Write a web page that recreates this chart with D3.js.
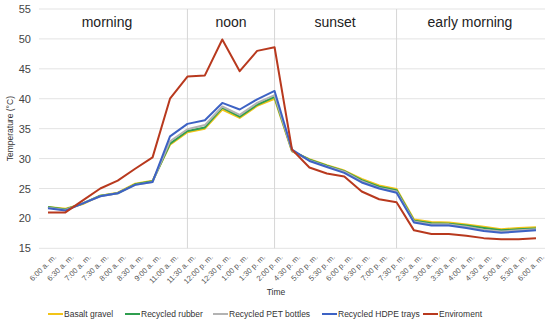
<!DOCTYPE html>
<html>
<head>
<meta charset="utf-8">
<script src="https://cdn.jsdelivr.net/npm/d3@7"></script>
<style>
  body { margin: 0; background: #fff; }
  svg { font-family: "Liberation Sans", Arial, sans-serif; }
</style>
</head>
<body>
<div id="chart"></div>
<script>
const times = ["6:00 a. m.", "6:30 a. m.", "7:00 a. m.", "7:30 a. m.", "8:00 a. m.", "8:30 a. m.", "9:00 a. m.",
  "11:00 a. m.", "11:30 a. m.", "12:00 p. m.", "12:30 p. m.", "1:00 p. m.", "1:30 p. m.", "2:00 p. m.",
  "4:30 p. m.", "5:00 p. m.", "5:30 p. m.", "6:00 p. m.", "6:30 p. m.", "7:00 p. m.", "7:30 p. m.",
  "2:30 a. m.", "3:00 a. m.", "3:30 a. m.", "4:00 a. m.", "4:30 a. m.", "5:00 a. m.", "5:30 a. m.", "6:00 a. m. "];

const basalt = [21.9, 21.6, 22.4, 23.8, 24.3, 25.8, 26.3, 32.3, 34.4, 35.0, 38.2, 36.8, 38.8, 40.0,
  31.2, 29.9, 28.9, 28.0, 26.6, 25.5, 24.9, 19.8, 19.4, 19.3, 19.0, 18.6, 18.2, 18.4, 18.5];
const rubber = [21.9, 21.5, 22.5, 23.8, 24.2, 25.7, 26.2, 32.5, 34.6, 35.2, 38.5, 37.0, 39.0, 40.3,
  31.3, 29.8, 28.8, 27.9, 26.4, 25.3, 24.7, 19.6, 19.2, 19.1, 18.8, 18.4, 18.0, 18.2, 18.3];
const pet = [21.8, 21.4, 22.5, 23.7, 24.2, 25.6, 26.1, 32.9, 34.9, 35.6, 38.7, 37.3, 39.3, 40.6,
  31.3, 29.7, 28.7, 27.8, 26.2, 25.1, 24.5, 19.5, 19.0, 19.0, 18.6, 18.1, 17.8, 18.0, 18.2];
const hdpe = [21.7, 21.3, 22.5, 23.7, 24.2, 25.6, 26.1, 33.7, 35.8, 36.4, 39.3, 38.2, 39.9, 41.3,
  31.5, 29.6, 28.6, 27.6, 26.0, 25.0, 24.3, 19.3, 18.8, 18.8, 18.4, 17.9, 17.6, 17.8, 18.0];
const enviroment = [21.0, 21.0, 23.0, 25.0, 26.3, 28.3, 30.2, 40.0, 43.7, 43.9, 49.9, 44.6, 48.0, 48.6,
  31.5, 28.5, 27.5, 27.0, 24.5, 23.2, 22.7, 18.0, 17.4, 17.4, 17.1, 16.7, 16.5, 16.5, 16.7];

const seriesNames = ["Basalt gravel", "Recycled rubber", "Recycled PET bottles", "Recycled HDPE trays", "Enviroment"];
const seriesValues = [basalt, rubber, pet, hdpe, enviroment];
const colors = ["#f2c418", "#2f9e4f", "#b3b3b3", "#3d62c4", "#b8391e"];

const yTicks = [15, 20, 25, 30, 35, 40, 45, 50, 55];
const periods = ["morning", "noon", "sunset", "early morning"];
const periodBreaks = ["11:30 a. m.", "2:00 p. m.", "7:30 p. m."];

const width = 550;
const height = 323;
const margin = { top: 9, right: 5, bottom: 75, left: 39 };

const svg = d3.select("#chart").append("svg")
  .attr("width", width)
  .attr("height", height);

const x = d3.scalePoint()
  .domain(times)
  .range([48, 536]);

const y = d3.scaleLinear()
  .domain([15, 55])
  .range([height - margin.bottom + 0.3, margin.top]);

// horizontal grid
svg.append("g")
  .selectAll("line")
  .data(yTicks)
  .join("line")
  .attr("x1", margin.left)
  .attr("x2", width - margin.right)
  .attr("y1", d => y(d))
  .attr("y2", d => y(d))
  .attr("stroke", "#e3e3e3")
  .attr("stroke-width", 1);

// period dividers
svg.append("g")
  .selectAll("line")
  .data(periodBreaks)
  .join("line")
  .attr("x1", d => x(d))
  .attr("x2", d => x(d))
  .attr("y1", y(55))
  .attr("y2", y(15))
  .attr("stroke", "#d6d6d6")
  .attr("stroke-width", 1);

// y axis
const yAxis = svg.append("g")
  .attr("transform", `translate(${margin.left - 8}, 0)`)
  .call(d3.axisLeft(y).tickValues(yTicks).tickSize(0).tickPadding(0));
yAxis.select(".domain").remove();
yAxis.selectAll("text").attr("font-size", 11).attr("fill", "#444");

// x axis
const xAxis = svg.append("g")
  .attr("transform", `translate(0, ${y(15) + 6})`)
  .call(d3.axisBottom(x).tickSize(0).tickPadding(0));
xAxis.select(".domain").remove();
xAxis.selectAll("text")
  .attr("font-size", 7.6)
  .attr("fill", "#555")
  .attr("text-anchor", "end")
  .attr("dy", "0.6em")
  .attr("transform", "translate(5,0) rotate(-45)");

// period labels
const periodX = [107, 231, 335, 470];
svg.append("g")
  .selectAll("text")
  .data(periods)
  .join("text")
  .attr("x", (d, i) => periodX[i])
  .attr("y", 27)
  .attr("text-anchor", "middle")
  .attr("font-size", 14)
  .attr("fill", "#222")
  .text(d => d);

// lines
const line = d3.line()
  .x((d, i) => x(times[i]))
  .y(d => y(d));

svg.append("g")
  .selectAll("path")
  .data(seriesValues)
  .join("path")
  .attr("d", d => line(d))
  .attr("fill", "none")
  .attr("stroke", (d, i) => colors[i])
  .attr("stroke-width", 2)
  .attr("stroke-linejoin", "round");

// axis titles
svg.append("text")
  .attr("x", 276)
  .attr("y", 295)
  .attr("text-anchor", "middle")
  .attr("font-size", 8.5)
  .attr("fill", "#333")
  .text("Time");

svg.append("text")
  .attr("transform", `translate(13, ${(y(15) + y(55)) / 2}) rotate(-90)`)
  .attr("text-anchor", "middle")
  .attr("font-size", 8.5)
  .attr("fill", "#333")
  .text("Temperature (°C)");

// legend
const legendX = [48, 125, 213, 322, 423];
const legend = svg.append("g")
  .selectAll("g")
  .data(seriesNames)
  .join("g")
  .attr("transform", (d, i) => `translate(${legendX[i]}, 314)`);
legend.append("line")
  .attr("x1", 0).attr("x2", 15)
  .attr("stroke", (d, i) => colors[i])
  .attr("stroke-width", 2);
legend.append("text")
  .attr("x", 16)
  .attr("dy", "0.35em")
  .attr("font-size", 8.5)
  .attr("fill", "#333")
  .text(d => d);
</script>
</body>
</html>
